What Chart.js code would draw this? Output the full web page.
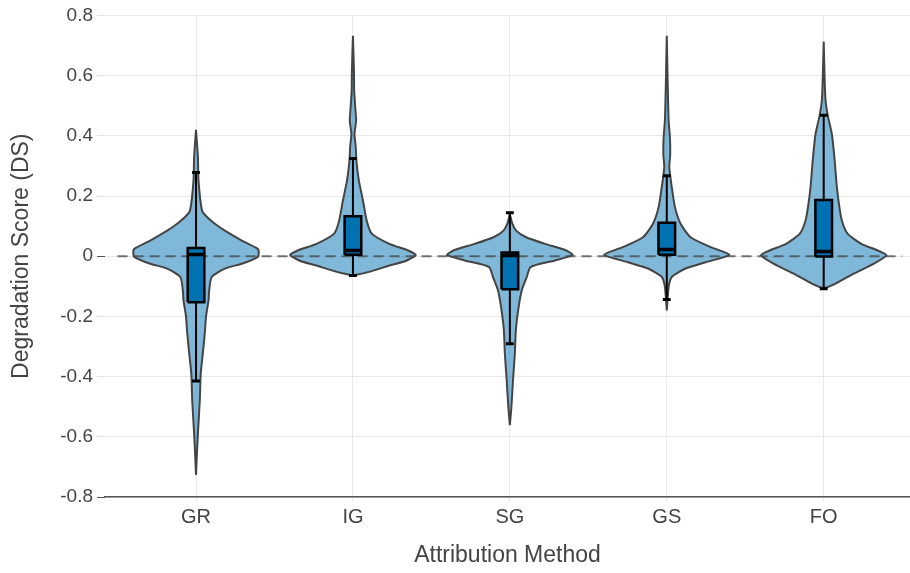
<!DOCTYPE html>
<html>
<head>
<meta charset="utf-8">
<script src="https://cdn.jsdelivr.net/npm/chart.js@4/dist/chart.umd.min.js"></script>
<style>
  html, body { margin: 0; padding: 0; background: #fff; }
  #wrap { width: 910px; height: 573px; }
</style>
</head>
<body>
<div id="wrap"><canvas id="violinChart" width="910" height="573"></canvas></div>
<script>
// categories
const methods = ['GR', 'IG', 'SG', 'GS', 'FO'];
const yTicks = [-0.8, -0.6, -0.4, -0.2, 0, 0.2, 0.4, 0.6, 0.8];

// violin outlines: score values and relative density (1 = widest)
const grY = [0.42, 0.33, 0.25, 0.152, 0.13, 0.108, 0.085, 0.052, 0.025, 0.014, -0.003, -0.025, -0.041, -0.069, -0.113, -0.146, -0.2, -0.256, -0.32, -0.39, -0.48, -0.59, -0.655, -0.727];
const grD = [0, 0.03, 0.04, 0.095, 0.175, 0.3, 0.46, 0.73, 0.98, 1.0, 0.98, 0.73, 0.46, 0.25, 0.21, 0.2, 0.16, 0.14, 0.11, 0.075, 0.06, 0.03, 0.015, 0];

const igY = [0.732, 0.62, 0.55, 0.5, 0.45, 0.406, 0.362, 0.318, 0.25, 0.185, 0.118, 0.075, 0.041, 0.019, 0.004, -0.015, -0.03, -0.053, -0.064];
const igD = [0, 0.016, 0.02, 0.035, 0.05, 0.025, 0.045, 0.055, 0.095, 0.16, 0.22, 0.3, 0.58, 0.88, 1.0, 0.85, 0.6, 0.24, 0];

const sgY = [0.14, 0.108, 0.085, 0.063, 0.041, 0.019, 0.004, -0.014, -0.036, -0.069, -0.113, -0.169, -0.246, -0.323, -0.412, -0.5, -0.561];
const sgD = [0, 0.04, 0.1, 0.26, 0.56, 0.9, 1.0, 0.72, 0.33, 0.27, 0.19, 0.14, 0.095, 0.08, 0.05, 0.025, 0];

const gsY = [0.732, 0.56, 0.45, 0.395, 0.34, 0.295, 0.229, 0.163, 0.108, 0.063, 0.03, 0.005, -0.02, -0.041, -0.069, -0.102, -0.18];
const gsD = [0, 0.016, 0.03, 0.05, 0.055, 0.04, 0.08, 0.13, 0.22, 0.38, 0.7, 1.0, 0.62, 0.3, 0.08, 0.03, 0];

const foY = [0.713, 0.583, 0.516, 0.467, 0.406, 0.318, 0.229, 0.163, 0.118, 0.075, 0.041, 0.019, 0.003, -0.025, -0.058, -0.091, -0.108];
const foD = [0, 0.016, 0.03, 0.065, 0.13, 0.175, 0.21, 0.25, 0.29, 0.38, 0.6, 0.86, 1.0, 0.8, 0.48, 0.19, 0];

// box plot stats
const q1 = [-0.153, 0.005, -0.11, 0.005, -0.001];
const median = [0.006, 0.019, 0.002, 0.022, 0.016];
const q3 = [0.027, 0.133, 0.012, 0.111, 0.187];
const whiskerLo = [-0.415, -0.064, -0.291, -0.144, -0.108];
const whiskerHi = [0.278, 0.325, 0.144, 0.267, 0.468];

const violinYs = [grY, igY, sgY, gsY, foY];
const violinDs = [grD, igD, sgD, gsD, foD];

const halfViolin = 0.4;
const halfBox = 0.053;
const halfCap = 0.025;

function violinPoints(i) {
  const c = i + 1;
  const ys = violinYs[i], ds = violinDs[i];
  const pts = [];
  for (let k = 0; k < ys.length; k++) pts.push({ x: c + ds[k] * halfViolin, y: ys[k] });
  for (let k = ys.length - 1; k >= 0; k--) pts.push({ x: c - ds[k] * halfViolin, y: ys[k] });
  return pts;
}

const datasets = [];

methods.forEach((m, i) => {
  const c = i + 1;
  datasets.push({
    data: violinPoints(i),
    showLine: true, fill: 'shape', tension: 0.2,
    backgroundColor: 'rgba(0, 114, 178, 0.5)',
    borderColor: '#444', borderWidth: 2,
    pointRadius: 0, order: 10
  });
  datasets.push({
    data: [{ x: c, y: whiskerLo[i] }, { x: c, y: whiskerHi[i] }],
    showLine: true, borderColor: '#000', borderWidth: 2,
    pointRadius: 0, order: 4
  });
  datasets.push({
    data: [{ x: c - halfCap, y: whiskerHi[i] }, { x: c + halfCap, y: whiskerHi[i] }],
    showLine: true, borderColor: '#000', borderWidth: 3,
    pointRadius: 0, order: 1
  });
  datasets.push({
    data: [{ x: c - halfCap, y: whiskerLo[i] }, { x: c + halfCap, y: whiskerLo[i] }],
    showLine: true, borderColor: '#000', borderWidth: 3,
    pointRadius: 0, order: 1
  });
  datasets.push({
    data: [
      { x: c - halfBox, y: q1[i] }, { x: c - halfBox, y: q3[i] },
      { x: c + halfBox, y: q3[i] }, { x: c + halfBox, y: q1[i] },
      { x: c - halfBox, y: q1[i] }
    ],
    showLine: true, fill: 'shape', tension: 0,
    backgroundColor: '#0072B2', borderColor: '#000', borderWidth: 2.5,
    pointRadius: 0, order: 3
  });
  datasets.push({
    data: [{ x: c - halfBox, y: median[i] }, { x: c + halfBox, y: median[i] }],
    showLine: true, borderColor: '#000', borderWidth: 3.5,
    pointRadius: 0, order: 2
  });
});

// dashed zero line
datasets.push({
  data: [{ x: 0.5, y: 0 }, { x: 5.5, y: 0 }],
  showLine: true, borderColor: 'rgba(70, 70, 70, 0.75)', borderWidth: 2,
  borderDash: [10, 6], pointRadius: 0, order: 5
});

new Chart(document.getElementById('violinChart'), {
  type: 'scatter',
  data: { datasets },
  options: {
    responsive: false,
    animation: false,
    devicePixelRatio: 1,
    layout: { padding: { top: 14, right: 0, left: 0, bottom: 0 } },
    plugins: { legend: { display: false }, tooltip: { enabled: false } },
    scales: {
      x: {
        type: 'linear', min: 0.42, max: 5.55,
        afterBuildTicks: s => { s.ticks = methods.map((m, i) => ({ value: i + 1 })); },
        afterFit: s => { s.height = 76; },
        ticks: {
          callback: v => methods[v - 1],
          autoSkip: false, maxRotation: 0, padding: 3,
          color: '#444', font: { family: 'Liberation Sans, Arial, sans-serif', size: 20 }
        },
        grid: { color: '#e8e8e8', lineWidth: 1, tickLength: 5, tickColor: '#e8e8e8' },
        border: { display: true, color: '#555', width: 1.5 },
        title: {
          display: true, text: 'Attribution Method', color: '#444',
          font: { family: 'Liberation Sans, Arial, sans-serif', size: 23 },
          padding: { top: 0, bottom: 4 }
        }
      },
      y: {
        min: -0.8, max: 0.8,
        afterBuildTicks: s => { s.ticks = yTicks.map(v => ({ value: v })); },
        afterFit: s => { s.width = 105; },
        ticks: {
          callback: v => (Math.abs(v) < 1e-9 ? '0' : v.toFixed(1)),
          padding: 4, color: '#444',
          font: { family: 'Liberation Sans, Arial, sans-serif', size: 19 }
        },
        grid: {
          color: '#e8e8e8', lineWidth: 1, tickLength: 8,
          tickColor: ctx => (ctx.tick && (Math.abs(ctx.tick.value) < 1e-9 || ctx.tick.value === -0.8) ? '#555' : '#e0e0e0')
        },
        border: { display: false },
        title: {
          display: true, text: 'Degradation Score (DS)', color: '#444',
          font: { family: 'Liberation Sans, Arial, sans-serif', size: 23 },
          padding: { top: 8, bottom: 0 }
        }
      }
    }
  }
});
</script>
</body>
</html>
